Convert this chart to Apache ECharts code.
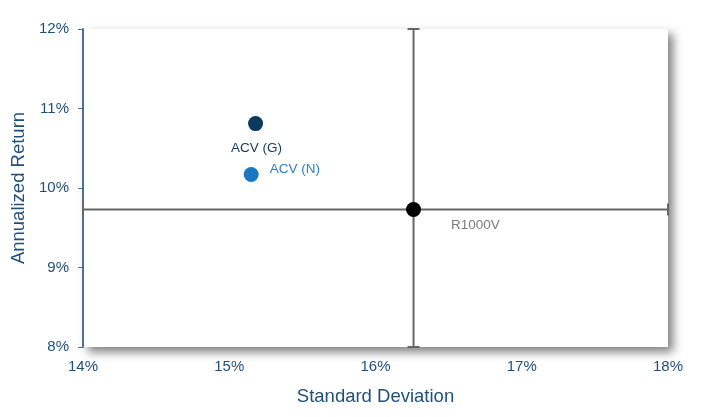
<!DOCTYPE html>
<html>
<head>
<meta charset="utf-8">
<script src="https://cdn.jsdelivr.net/npm/echarts@6/dist/echarts.min.js"></script>
<style>
  html, body { margin: 0; padding: 0; background: #fff; }
  #chart { width: 708px; height: 417px; }
</style>
</head>
<body>
<div id="chart"></div>
<script>
// axis ticks (percent)
var xTicks = [14, 15, 16, 17, 18];
var yTicks = [8, 9, 10, 11, 12];

// points
var names = ['ACV (G)', 'ACV (N)', 'R1000V'];
var stdDev = [15.18, 15.15, 16.26];
var annReturn = [10.81, 10.17, 9.73];

var dotColors = ['#0b3a5e', '#1b78c0', '#000000'];
var labelColors = ['#16395a', '#2a82c6', '#7a7a7a'];

var myChart = echarts.init(document.getElementById('chart'));

var bench = [stdDev[2], annReturn[2]];
var xMin = xTicks[0], xMax = xTicks[xTicks.length - 1];
var yMin = yTicks[0], yMax = yTicks[yTicks.length - 1];

// crosshair through the benchmark, with end caps
function renderCross(params, api) {
    var l = api.coord([xMin, bench[1]]);
    var r = api.coord([xMax, bench[1]]);
    var t = api.coord([bench[0], yMax]);
    var b = api.coord([bench[0], yMin]);
    var cap = 6;
    var st = { stroke: '#666666', lineWidth: 2 };
    return {
        type: 'group',
        children: [
            { type: 'line', shape: { x1: l[0], y1: l[1], x2: r[0], y2: r[1] }, style: st },
            { type: 'line', shape: { x1: t[0], y1: t[1], x2: b[0], y2: b[1] }, style: st },
            { type: 'line', shape: { x1: r[0], y1: r[1] - cap, x2: r[0], y2: r[1] + cap }, style: st },
            { type: 'line', shape: { x1: l[0], y1: l[1] - cap, x2: l[0], y2: l[1] + cap }, style: st },
            { type: 'line', shape: { x1: t[0] - cap, y1: t[1], x2: t[0] + cap, y2: t[1] }, style: st },
            { type: 'line', shape: { x1: b[0] - cap, y1: b[1], x2: b[0] + cap, y2: b[1] }, style: st }
        ]
    };
}

var labelPos = [
    { position: 'bottom', distance: 10, offset: [1, 0] },
    { position: 'right', distance: 11, offset: [0, -5] },
    { position: 'right', distance: 30, offset: [0, 16] }
];

var points = names.map(function (n, i) {
    return {
        name: n,
        value: [stdDev[i], annReturn[i]],
        itemStyle: { color: dotColors[i], opacity: 1 },
        label: {
            show: true,
            formatter: n,
            position: labelPos[i].position,
            distance: labelPos[i].distance,
            offset: labelPos[i].offset,
            color: labelColors[i],
            fontSize: 13.5
        }
    };
});

var option = {
    animation: false,
    textStyle: { fontFamily: 'Liberation Sans, Arial, sans-serif' },
    grid: {
        left: 83,
        right: 40,
        top: 29,
        bottom: 70,
        show: true,
        backgroundColor: '#ffffff',
        borderWidth: 0,
        shadowColor: 'rgba(0,0,0,0.5)',
        shadowBlur: 9,
        shadowOffsetX: 5,
        shadowOffsetY: 5
    },
    xAxis: {
        type: 'value',
        min: xMin,
        max: xMax,
        interval: 1,
        name: 'Standard Deviation',
        nameLocation: 'middle',
        nameGap: 40,
        nameTextStyle: { color: '#1f4e79', fontSize: 18.5 },
        axisLine: { show: false },
        axisTick: { show: false },
        splitLine: { show: false },
        axisLabel: { color: '#1f4e79', fontSize: 15, margin: 12, formatter: '{value}%' }
    },
    yAxis: {
        type: 'value',
        min: yMin,
        max: yMax,
        interval: 1,
        name: 'Annualized Return',
        nameLocation: 'middle',
        nameGap: 55,
        nameTextStyle: { color: '#1f4e79', fontSize: 18.5 },
        axisLine: { show: true, lineStyle: { color: '#4f6f8f', width: 2 } },
        axisTick: { show: true, length: 5, lineStyle: { color: '#4f6f8f', width: 1 } },
        splitLine: { show: false },
        axisLabel: { color: '#1f4e79', fontSize: 15, margin: 14, formatter: '{value}%' }
    },
    series: [
        {
            type: 'custom',
            renderItem: renderCross,
            data: [bench],
            z: 1,
            silent: true
        },
        {
            type: 'scatter',
            symbolSize: 15,
            data: points,
            z: 3
        }
    ]
};

myChart.setOption(option);
</script>
</body>
</html>
